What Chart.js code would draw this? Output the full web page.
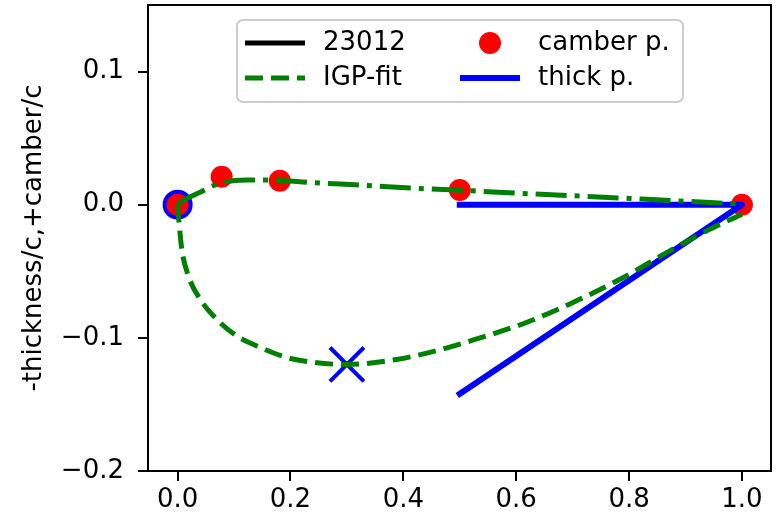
<!DOCTYPE html>
<html>
<head>
<meta charset="utf-8">
<script src="https://cdn.jsdelivr.net/npm/chart.js@4.4.1/dist/chart.umd.min.js"></script>
<style>
    html, body { margin: 0; padding: 0; background: #fff; }
    #wrap { width: 777px; height: 519px; }
</style>
</head>
<body>
<div id="wrap"><canvas id="airfoilChart" width="777" height="519"></canvas></div>
<script>
// 刻度
const xTicks = [0.0, 0.2, 0.4, 0.6, 0.8, 1.0];
const yTicks = [-0.2, -0.1, 0.0, 0.1];

// IGP-fit 下侧曲线 (-thickness)
const fitLowerX = [0.0, 0.0004, 0.0014, 0.0074, 0.0191, 0.0399, 0.0694, 0.1049, 0.146, 0.193, 0.24, 0.30, 0.388, 0.447, 0.518, 0.619, 0.695, 0.784, 0.872, 0.943, 1.0];
const fitLowerY = [0.0, -0.004, -0.0084, -0.0335, -0.0535, -0.071, -0.0861, -0.0986, -0.1071, -0.1147, -0.1184, -0.120, -0.1162, -0.1109, -0.1024, -0.0883, -0.0745, -0.056, -0.0347, -0.0184, -0.0072];

// IGP-fit 上侧曲线 (camber)
const fitUpperX = [0.0, 0.0044, 0.0399, 0.0753, 0.1226, 0.169, 0.235, 0.323, 0.43, 0.523, 0.607, 0.831, 1.0];
const fitUpperY = [0.0, 0.0017, 0.0094, 0.0162, 0.0186, 0.0184, 0.0167, 0.0147, 0.0122, 0.0104, 0.0086, 0.0041, 0.0004];

// camber 控制点
const camberX = [0.0, 0.078, 0.181, 0.5, 1.0];
const camberY = [0.0, 0.021, 0.018, 0.011, 0.0];

// thickness 控制线
const thickX = [0.5, 1.0, 0.5];
const thickY = [0.0, 0.0, -0.142];

// 前缘点和最大厚度点
const leadX = [0.0];
const leadY = [0.0];
const maxThickX = [0.3];
const maxThickY = [-0.12];

// 23012 原始翼型 (图中看不到)
const naca23012X = [];
const naca23012Y = [];

function toPoints(xs, ys) {
    return xs.map((x, i) => ({ x: x, y: ys[i] }));
}

function fmtTick(v) {
    const s = Math.abs(v) < 1e-9 ? '0.0' : v.toFixed(1);
    return s.replace('-', '\u2212');
}

const FONT = 'DejaVu Sans';
const FONT_SIZE = 26;

// 固定绘图区, 去掉标签溢出留白
function fixScale(s, size) {
    if (s.isHorizontal()) s.height = size; else s.width = size;
    s.paddingTop = 0;
    s.paddingBottom = 0;
    s.paddingLeft = 0;
    s.paddingRight = 0;
}

// 图框
const framePlugin = {
    id: 'frame',
    afterDatasetsDraw(chart) {
        const { ctx, chartArea: a } = chart;
        ctx.save();
        ctx.strokeStyle = '#000';
        ctx.lineWidth = 2;
        ctx.strokeRect(a.left, a.top, a.right - a.left, a.bottom - a.top);
        ctx.restore();
    }
};

// 带边框的图例 (两列)
const boxLegendPlugin = {
    id: 'boxLegend',
    afterDraw(chart, args, opts) {
        const ctx = chart.ctx;
        ctx.save();
        const b = opts.box;
        ctx.beginPath();
        ctx.roundRect(b.left, b.top, b.right - b.left, b.bottom - b.top, 6);
        ctx.fillStyle = 'rgba(255,255,255,0.8)';
        ctx.fill();
        ctx.strokeStyle = '#cccccc';
        ctx.lineWidth = 2;
        ctx.stroke();

        ctx.font = FONT_SIZE + 'px "' + FONT + '"';
        ctx.textBaseline = 'middle';
        ctx.textAlign = 'left';
        chart.data.datasets.forEach(ds => {
            if (!ds.legendSlot) return;
            const [col, row] = ds.legendSlot;
            const x0 = opts.colX[col];
            const y = opts.rowY[row];
            if (ds.showLine) {
                ctx.beginPath();
                ctx.setLineDash(ds.borderDash || []);
                ctx.lineCap = 'butt';
                ctx.strokeStyle = ds.borderColor;
                ctx.lineWidth = ds.borderWidth;
                ctx.moveTo(x0, y);
                ctx.lineTo(x0 + opts.handleLen, y);
                ctx.stroke();
                ctx.setLineDash([]);
            } else {
                ctx.beginPath();
                ctx.fillStyle = ds.backgroundColor;
                ctx.arc(x0 + opts.handleLen / 2, y, ds.pointRadius, 0, Math.PI * 2);
                ctx.fill();
            }
            ctx.fillStyle = '#000';
            ctx.fillText(ds.label, x0 + opts.handleLen + opts.gap, y);
        });
        ctx.restore();
    }
};

// 数据集: 排在前面的画在上层
const datasets = [
    {
        label: 'IGP-fit',
        legendSlot: [0, 1],
        data: toPoints(fitLowerX, fitLowerY),
        showLine: true,
        borderColor: 'green',
        borderWidth: 5,
        borderDash: [18, 8],
        cubicInterpolationMode: 'monotone',
        pointRadius: 0
    },
    {
        label: 'IGP-fit camber',
        data: toPoints(fitUpperX, fitUpperY),
        showLine: true,
        borderColor: 'green',
        borderWidth: 5,
        borderDash: [31, 8, 5, 8],
        cubicInterpolationMode: 'monotone',
        pointRadius: 0
    },
    {
        label: 'thick p.',
        legendSlot: [1, 1],
        data: toPoints(thickX, thickY),
        showLine: true,
        borderColor: 'blue',
        borderWidth: 6,
        borderCapStyle: 'square',
        borderJoinStyle: 'round',
        pointRadius: 0
    },
    {
        label: 'max thickness',
        data: toPoints(maxThickX, maxThickY),
        pointStyle: 'crossRot',
        pointRadius: 24,
        pointBorderWidth: 4,
        pointBorderColor: 'blue',
        borderColor: 'blue'
    },
    {
        label: 'camber p.',
        legendSlot: [1, 0],
        data: toPoints(camberX, camberY),
        pointStyle: 'circle',
        pointRadius: 11,
        pointBorderWidth: 0,
        backgroundColor: 'red',
        pointBackgroundColor: 'red'
    },
    {
        label: 'leading edge',
        data: toPoints(leadX, leadY),
        pointStyle: 'circle',
        pointRadius: 15,
        pointBorderWidth: 0,
        backgroundColor: 'blue',
        pointBackgroundColor: 'blue'
    },
    {
        label: '23012',
        legendSlot: [0, 0],
        data: toPoints(naca23012X, naca23012Y),
        showLine: true,
        borderColor: 'black',
        borderWidth: 5,
        pointRadius: 0
    }
];

const ctx = document.getElementById('airfoilChart').getContext('2d');
const airfoilChart = new Chart(ctx, {
    type: 'scatter',
    data: { datasets: datasets },
    options: {
        responsive: false,
        animation: false,
        devicePixelRatio: 1,
        layout: { autoPadding: false, padding: { top: 5, right: 6, left: 0, bottom: 0 } },
        plugins: {
            legend: { display: false },
            tooltip: { enabled: false },
            boxLegend: {
                box: { left: 237, top: 20, right: 683, bottom: 102 },
                colX: [245, 460],
                rowY: [43, 78],
                handleLen: 60,
                gap: 18
            }
        },
        scales: {
            x: {
                type: 'linear',
                min: -0.0525,
                max: 1.0515,
                afterBuildTicks: s => { s.ticks = xTicks.map(v => ({ value: v })); },
                afterFit: s => fixScale(s, 48),
                border: { display: false },
                grid: { display: true, drawOnChartArea: false, drawTicks: true, tickLength: 10, color: '#000', lineWidth: 2 },
                ticks: {
                    color: '#000',
                    font: { family: FONT, size: FONT_SIZE },
                    padding: 4,
                    maxRotation: 0,
                    autoSkip: false,
                    callback: v => fmtTick(v)
                }
            },
            y: {
                type: 'linear',
                min: -0.2,
                max: 0.15,
                afterBuildTicks: s => { s.ticks = yTicks.map(v => ({ value: v })); },
                afterFit: s => fixScale(s, 148),
                border: { display: false },
                grid: { display: true, drawOnChartArea: false, drawTicks: true, tickLength: 10, color: '#000', lineWidth: 2 },
                ticks: {
                    color: '#000',
                    font: { family: FONT, size: FONT_SIZE },
                    padding: 14,
                    autoSkip: false,
                    callback: v => fmtTick(v)
                },
                title: {
                    display: true,
                    text: '-thickness/c,+camber/c',
                    color: '#000',
                    font: { family: FONT, size: FONT_SIZE },
                    padding: { top: 19, bottom: 0 }
                }
            }
        }
    },
    plugins: [framePlugin, boxLegendPlugin]
});
</script>
</body>
</html>
